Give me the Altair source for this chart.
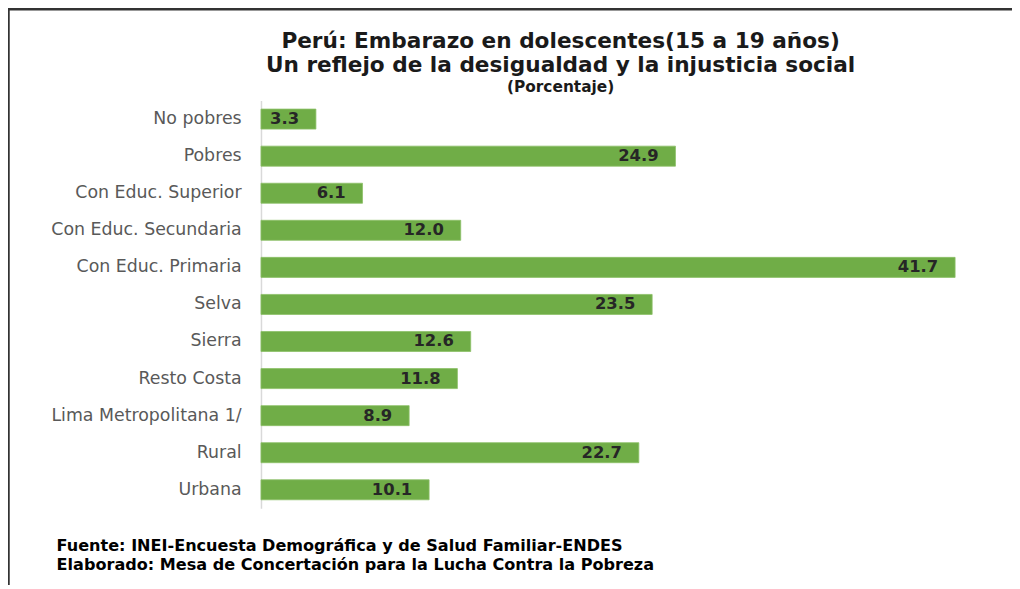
import altair as alt
import pandas as pd

categories = ["No pobres", "Pobres", "Con Educ. Superior", "Con Educ. Secundaria",
              "Con Educ. Primaria", "Selva", "Sierra", "Resto Costa",
              "Lima Metropolitana 1/", "Rural", "Urbana"]
values = [3.3, 24.9, 6.1, 12.0, 41.7, 23.5, 12.6, 11.8, 8.9, 22.7, 10.1]

title_lines = ["Perú: Embarazo en dolescentes(15 a 19 años)",
               "Un reflejo de la desigualdad  y la injusticia social"]
unit_label = "(Porcentaje)"
footer_lines = ["Fuente: INEI-Encuesta Demográfica y de Salud Familiar-ENDES",
                "Elaborado: Mesa de Concertación para la Lucha Contra la Pobreza"]

df = pd.DataFrame({"cat": categories, "val": values})
df["lbl"] = [f"{v:.1f}" for v in values]

W, H = 755, 411

xscale = alt.Scale(domain=[0, 45], nice=False, zero=True)
yenc = alt.Y("cat:N", sort=categories,
             scale=alt.Scale(paddingInner=0.46, paddingOuter=0.23),
             axis=alt.Axis(title=None, ticks=False, labelFontSize=17.5,
                           labelFont="DejaVu Sans", labelColor="#595959",
                           labelPadding=20, labelLimit=400, domainColor="#d9d9d9",
                           domainWidth=1.5, grid=False))

bars = alt.Chart(df).mark_bar(color="#70AD47", stroke="#8cc068", strokeWidth=0.8).encode(
    x=alt.X("val:Q", scale=xscale, axis=None),
    y=yenc,
)

labels = alt.Chart(df).mark_text(align="right", baseline="middle", dx=-17,
                                 font="DejaVu Sans", fontWeight="bold",
                                 fontSize=16.5, color="#262626").encode(
    x=alt.X("val:Q", scale=xscale),
    y=alt.Y("cat:N", sort=categories),
    text="lbl:N",
)

one = alt.Data(values=[{"a": 1}])

def txt(s, x, y, size, align="center", font="DejaVu Sans", color="#1a1a1a"):
    return alt.Chart(one).mark_text(text=s, align=align, baseline="middle",
                                    font=font, fontWeight="bold",
                                    fontSize=size, color=color).encode(
        x=alt.value(x), y=alt.value(y))

t1 = txt(title_lines[0], 302, -60, 21.8)
t2 = txt(title_lines[1], 302, -36, 21.8)
t3 = txt(unit_label, 302, -14, 15.5)
f1 = txt(footer_lines[0], -206, 449, 16.2, align="left", color="#000000")
f2 = txt(footer_lines[1], -206, 468, 16.2, align="left", color="#000000")

top_border = alt.Chart(one).mark_rule(color="#333333", strokeWidth=2.5).encode(
    x=alt.value(-255), x2=alt.value(760), y=alt.value(-92))
left_border = alt.Chart(one).mark_rule(color="#333333", strokeWidth=2.5).encode(
    x=alt.value(-254.5), y=alt.value(-93), y2=alt.value(495))

chart = alt.layer(bars, labels, t1, t2, t3, f1, f2, top_border, left_border).properties(
    width=W, height=H,
    autosize=alt.AutoSizeParams(type="none"),
    padding={"left": 255, "top": 91, "right": 2, "bottom": 75},
    background="white",
).configure_view(stroke=None)

chart.save("out.html", embed_options={"renderer": "svg", "actions": False})
